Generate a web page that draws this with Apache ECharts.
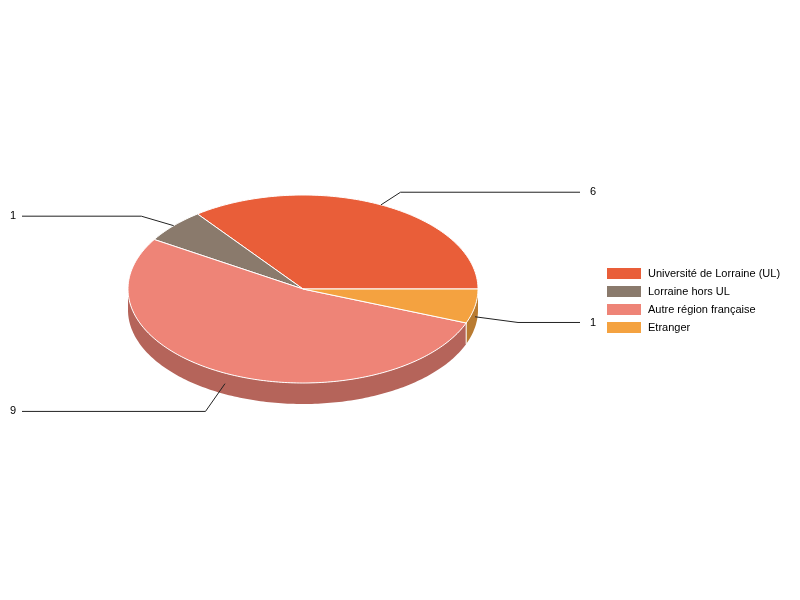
<!DOCTYPE html>
<html>
<head>
<meta charset="utf-8">
<script src="https://cdn.jsdelivr.net/npm/echarts@6/dist/echarts.min.js"></script>
<style>html,body{margin:0;padding:0;background:#fff;}#c{width:800px;height:600px;}</style>
</head>
<body>
<div id="c"></div>
<script>
const categories = ['Université de Lorraine (UL)', 'Lorraine hors UL', 'Autre région française', 'Etranger'];
const values = [6, 1, 9, 1];
const colors = ['#E95E39', '#8A7A6C', '#EE8477', '#F4A240'];

// layout (not data)
const CX = 303, CY = 289, RX = 175, RY = 94, DEPTH = 21;
const FONT = '11px "Liberation Sans", Arial, sans-serif';

const total = values.reduce((a, b) => a + b, 0);
const starts = [];
let acc = 0;
values.forEach(v => { starts.push(acc); acc += v; });

function shade(hex, f) {
  const n = parseInt(hex.slice(1), 16);
  const r = Math.round(((n >> 16) & 255) * f), g = Math.round(((n >> 8) & 255) * f), b = Math.round((n & 255) * f);
  return 'rgb(' + r + ',' + g + ',' + b + ')';
}
function pt(deg, rx, ry, dy) {
  const r = deg * Math.PI / 180;
  return [CX + rx * Math.cos(r), CY - ry * Math.sin(r) + (dy || 0)];
}
function arc(a0, a1, dy) {
  const pts = [];
  const n = Math.max(2, Math.ceil(a1 - a0));
  for (let i = 0; i <= n; i++) pts.push(pt(a0 + (a1 - a0) * i / n, RX, RY, dy));
  return pts;
}

function renderSlice(idx) {
  return function (params, api) {
    const v = api.value(0);
    const a0 = starts[idx] / total * 360, a1 = (starts[idx] + v) / total * 360;
    const children = [];
    const s0 = Math.max(a0, 180), s1 = Math.min(a1, 360);
    if (s1 > s0) {
      const top = arc(s0, s1, 0), bot = arc(s0, s1, DEPTH).reverse();
      children.push({ type: 'polygon', z2: 1, shape: { points: top.concat(bot) },
        style: { fill: shade(colors[idx], 0.76), stroke: null } });
    }
    if (a0 > 180 && a0 < 360) {
      const p = pt(a0, RX, RY, 0);
      children.push({ type: 'line', z2: 2, shape: { x1: p[0], y1: p[1], x2: p[0], y2: p[1] + DEPTH },
        style: { stroke: '#fff', lineWidth: 1 } });
    }
    children.push({ type: 'polygon', z2: 10, shape: { points: [[CX, CY]].concat(arc(a0, a1, 0)) },
      style: { fill: colors[idx], stroke: '#fff', lineWidth: 1 } });
    const m = (a0 + a1) / 2;
    const lower = Math.sin(m * Math.PI / 180) < 0;
    const off = lower ? DEPTH / 2 : 0;
    const p1 = pt(m, RX, RY, off);
    const p2 = pt(m, RX * 1.25, RY * (lower ? 1.33 : 1.15), off);
    const right = Math.cos(m * Math.PI / 180) >= 0;
    const xEnd = right ? 580 : 22;
    children.push({ type: 'polyline', z2: 20, shape: { points: [p1, p2, [xEnd, p2[1]]] },
      style: { stroke: '#222', lineWidth: 1, fill: null } });
    children.push({ type: 'text', z2: 20, style: { text: String(v), x: right ? 590 : 16, y: p2[1],
      align: right ? 'left' : 'right', verticalAlign: 'middle', font: FONT, fill: '#000' } });
    return { type: 'group', children: children };
  };
}

const chart = echarts.init(document.getElementById('c'));
chart.setOption({
  animation: false,
  color: colors,
  legend: {
    orient: 'vertical', left: 607, top: 268, padding: 0, itemWidth: 34, itemHeight: 11, itemGap: 7, icon: 'rect',
    textStyle: { fontSize: 11, fontFamily: '"Liberation Sans", Arial, sans-serif', color: '#000', padding: [0, 0, 0, 2] },
    data: categories
  },
  series: categories.map((name, i) => ({
    type: 'custom', name: name, coordinateSystem: 'none',
    itemStyle: { color: colors[i] },
    renderItem: renderSlice(i),
    data: [[values[i]]]
  }))
});
</script>
</body>
</html>
